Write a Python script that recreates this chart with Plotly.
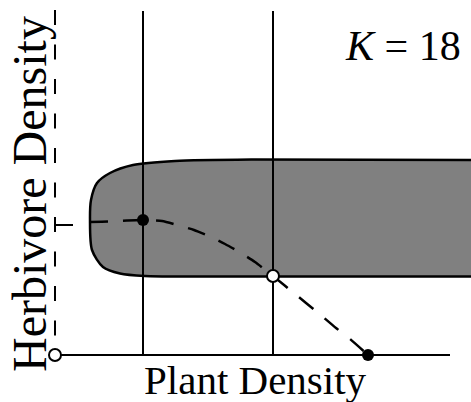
import plotly.graph_objects as go

# ---- data (plant density P, herbivore density H; arbitrary units) ----
axis_P = [0.0, 39.5]            # plant-density axis extent
axis_H = [34.5, 0.45]           # herbivore-density (dashed) axis extent
threshold_P = [8.8, 21.8]       # vertical threshold lines
threshold_top = 34.4
tick_P = [0.0, 1.8]
tick_H = [13.0, 13.0]

iso_P = [3.5, 5.3, 7.2, 8.8, 10.7, 12.2, 13.9, 15.6, 17.0, 18.6, 20.0, 21.8, 24.0, 26.15, 28.1, 29.5, 31.3]
iso_H = [13.3, 13.35, 13.45, 13.5, 13.4, 13.0, 12.5, 11.8, 11.1, 10.2, 9.3, 7.9, 6.1, 4.35, 2.7, 1.6, 0.0]

region_P = [45, 20, 12, 7.8, 5.5, 4.2, 3.6, 3.5, 3.7, 4.8, 6.5, 9, 14, 45]
region_H = [19.5, 19.55, 19.4, 19.0, 18.2, 17.2, 15.5, 13.5, 10.5, 8.8, 8.15, 7.9, 7.85, 7.85]

stable_P = [8.8, 31.3]
stable_H = [13.5, 0.0]
unstable_P = [0.0, 21.8]
unstable_H = [0.0, 7.9]

label_K = "<i>K</i> = 18"
label_x = "Plant Density"
label_y = "Herbivore Density"

FONT = "Liberation Serif"
W, H = 471, 402


def px(x):
    return x / W


def py(y):
    return 1 - y / H


fig = go.Figure()

# gray region
fig.add_trace(go.Scatter(x=region_P, y=region_H, mode="lines", fill="toself",
                         fillcolor="#808080",
                         line=dict(color="black", width=2.5, shape="spline", smoothing=0.8),
                         hoverinfo="skip"))

# vertical threshold lines
for p in threshold_P:
    fig.add_trace(go.Scatter(x=[p, p], y=[0, threshold_top], mode="lines",
                             line=dict(color="black", width=2), hoverinfo="skip"))

# x axis line
fig.add_trace(go.Scatter(x=axis_P, y=[0, 0], mode="lines",
                         line=dict(color="black", width=2), hoverinfo="skip"))
# y axis dashed
fig.add_trace(go.Scatter(x=[0, 0], y=axis_H, mode="lines",
                         line=dict(color="black", width=2, dash="15px,19.5px"), hoverinfo="skip"))
# tick
fig.add_trace(go.Scatter(x=tick_P, y=tick_H, mode="lines",
                         line=dict(color="black", width=2), hoverinfo="skip"))

# dashed isocline
fig.add_trace(go.Scatter(x=iso_P, y=iso_H, mode="lines",
                         line=dict(color="black", width=2.5, dash="18px,15px",
                                   shape="spline", smoothing=0.6),
                         hoverinfo="skip"))

# equilibria
fig.add_trace(go.Scatter(x=stable_P, y=stable_H, mode="markers",
                         marker=dict(size=12, color="black"), hoverinfo="skip"))
fig.add_trace(go.Scatter(x=unstable_P, y=unstable_H, mode="markers",
                         marker=dict(size=12, color="white", line=dict(color="black", width=2)),
                         hoverinfo="skip"))

fig.add_annotation(text=label_K, xref="paper", yref="paper", x=px(403), y=py(46),
                   xanchor="center", yanchor="middle",
                   showarrow=False, font=dict(family=FONT, size=42, color="black"))
fig.add_annotation(text=label_x, xref="paper", yref="paper", x=px(255), y=py(380),
                   xanchor="center", yanchor="middle",
                   showarrow=False, font=dict(family=FONT, size=41, color="black"))
fig.add_annotation(text=label_y, xref="paper", yref="paper", x=px(29), y=py(194),
                   xanchor="center", yanchor="middle",
                   textangle=-90, showarrow=False, font=dict(family=FONT, size=48, color="black"))

fig.update_layout(width=W, height=H, margin=dict(l=0, r=0, t=0, b=0),
                  paper_bgcolor="white", plot_bgcolor="white", showlegend=False,
                  xaxis=dict(range=[-55 / 10, (W - 55) / 10], visible=False, fixedrange=True),
                  yaxis=dict(range=[-(H - 355) / 10, 355 / 10], visible=False, fixedrange=True))

fig.write_html("out.html",
               config={"displayModeBar": False, "staticPlot": True},
               post_script="document.body.style.margin='0px';document.body.style.overflow='hidden';")
